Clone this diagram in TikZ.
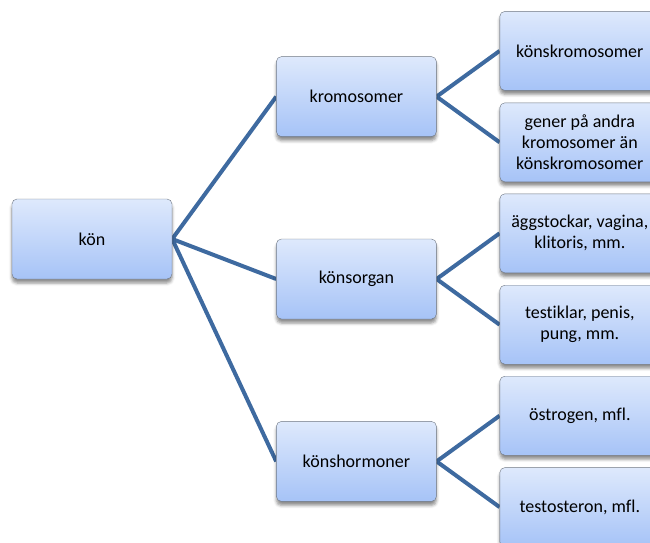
\documentclass[tikz,border=0pt]{standalone}
\usepackage{fontspec}
\setmainfont{Carlito}[Ligatures=NoCommon]
\usetikzlibrary{positioning,shadows.blur,backgrounds}
\definecolor{boxtop}{RGB}{222,233,252}
\definecolor{boxbot}{RGB}{166,195,247}
\definecolor{boxline}{RGB}{110,118,130}
\definecolor{linkblue}{RGB}{62,106,160}

\begin{document}
\begin{tikzpicture}[
  font=\fontsize{18}{21}\selectfont,
  box/.style={draw=boxline, thin, rounded corners=5pt, align=center,
              top color=boxtop, bottom color=boxbot,
              minimum width=160pt, minimum height=80pt, inner sep=2pt,
              blur shadow={shadow xshift=0pt, shadow yshift=-4pt,
                           shadow blur radius=3pt, shadow opacity=45}},
  leaf/.style={box, minimum height=79pt},
  link/.style={draw=linkblue, line width=4pt},
]
\useasboundingbox (0,0) rectangle (650pt,-542pt);
% root
\node[box] (kon) at (92pt,-239pt) {kön};
% middle level (kromosomer above, könshormoner below)
\node[box, right=104pt of kon, yshift=-40pt] (organ) {könsorgan};
\node[box, above=102pt of organ] (krom) {kromosomer};
\node[box, below=102pt of organ] (horm) {könshormoner};
% leaves, two per middle node
\node[leaf, above right=6pt and 63pt of krom.east] (kkrom) {könskromosomer};
\node[leaf, below right=6pt and 63pt of krom.east] (gener)
  {gener på andra\\kromosomer än\\könskromosomer};
\node[leaf, above right=6pt and 63pt of organ.east] (agg)
  {äggstockar, vagina,\\klitoris, mm.};
\node[leaf, below right=6pt and 63pt of organ.east] (test)
  {testiklar, penis,\\pung, mm.};
\node[leaf, above right=6pt and 63pt of horm.east] (ostr) {östrogen, mfl.};
\node[leaf, below right=6pt and 63pt of horm.east] (tost) {testosteron, mfl.};
% links
\begin{scope}[on background layer]
  \draw[link] (kon.east) -- (krom.west);
  \draw[link] (kon.east) -- (organ.west);
  \draw[link] (kon.east) -- (horm.west);
  \draw[link] (krom.east) -- (kkrom.west);
  \draw[link] (krom.east) -- (gener.west);
  \draw[link] (organ.east) -- (agg.west);
  \draw[link] (organ.east) -- (test.west);
  \draw[link] (horm.east) -- (ostr.west);
  \draw[link] (horm.east) -- (tost.west);
\end{scope}
\end{tikzpicture}
\end{document}
